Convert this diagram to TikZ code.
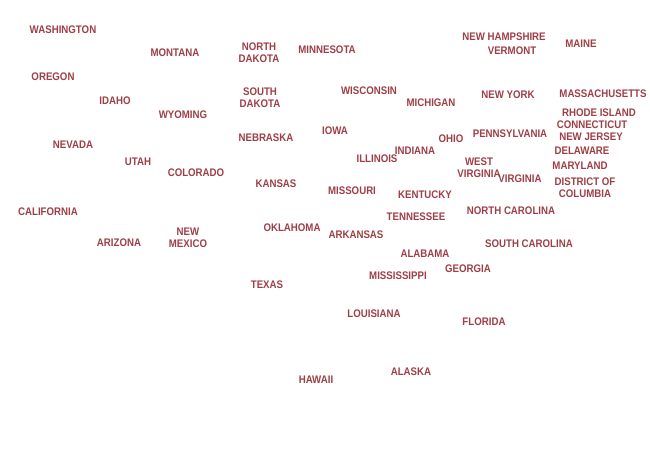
\documentclass[tikz,border=0pt]{standalone}
\usepackage{fontspec}
\usepackage{xcolor}
\usepackage{tikz}
\newfontfamily\statefont[FakeStretch=0.88]{Liberation Sans}
\definecolor{statered}{RGB}{158,62,70}
\tikzset{
  statelabel/.style={statered, font=\statefont\bfseries\fontsize{11}{12}\selectfont, align=center, inner sep=0pt}
}

\begin{document}
\begin{tikzpicture}[x=1pt, y=-1pt]
          % Define parameters
          \def\Wtotal{650}        % Width of the map
          \def\Htotal{450}        % Height of the map

          \useasboundingbox (0, 0) rectangle (\Wtotal, \Htotal);

          % Draw western states
          \foreach \x/\y/\name/\txt in {63/30/wa/WASHINGTON, 175/53/mt/MONTANA, 53/77/or/OREGON, 115/101/id/IDAHO,
              183/115/wy/WYOMING, 73/145/nv/NEVADA, 138/162/ut/UTAH, 196/173/co/COLORADO, 48/212/ca/CALIFORNIA,
              119/243/az/ARIZONA, 188/238/nm/{NEW\\MEXICO}} {
              \node[statelabel] (\name) at (\x, \y) {\txt};
          }

          % Draw central states
          \foreach \x/\y/\name/\txt in {259/53/nd/{NORTH\\DAKOTA}, 327/50/mn/MINNESOTA, 260/98/sd/{SOUTH\\DAKOTA},
              369/91/wi/WISCONSIN, 266/138/ne/NEBRASKA, 335/131/ia/IOWA, 377/159/il/ILLINOIS, 276/184/ks/KANSAS,
              352/191/mo/MISSOURI, 292/228/ok/OKLAHOMA, 356/235/ar/ARKANSAS, 267/285/tx/TEXAS, 374/314/la/LOUISIANA,
              398/276/ms/MISSISSIPPI} {
              \node[statelabel] (\name) at (\x, \y) {\txt};
          }

          % Draw eastern states
          \foreach \x/\y/\name/\txt in {504/37/nh/NEW HAMPSHIRE, 512/51/vt/VERMONT, 581/44/me/MAINE, 431/103/mi/MICHIGAN,
              508/95/ny/NEW YORK, 603/94/ma/MASSACHUSETTS, 599/113/ri/RHODE ISLAND, 592/125/ct/CONNECTICUT,
              451/139/oh/OHIO, 510/134/pa/PENNSYLVANIA, 591/137/nj/NEW JERSEY, 415/151/in/INDIANA,
              582/151/de/DELAWARE, 479/168/wv/{WEST\\VIRGINIA}, 520/179/va/VIRGINIA, 580/166/md/MARYLAND,
              585/188/dc/{DISTRICT OF\\COLUMBIA}, 425/195/ky/KENTUCKY, 511/211/nc/NORTH CAROLINA,
              416/217/tn/TENNESSEE, 529/244/sc/SOUTH CAROLINA, 425/254/al/ALABAMA, 468/269/ga/GEORGIA,
              484/322/fl/FLORIDA} {
              \node[statelabel] (\name) at (\x, \y) {\txt};
          }

          % Draw Alaska and Hawaii
          \node[statelabel] (ak) at (411, 372) {ALASKA};
          \node[statelabel] (hi) at (316, 380) {HAWAII};
\end{tikzpicture}
\end{document}
